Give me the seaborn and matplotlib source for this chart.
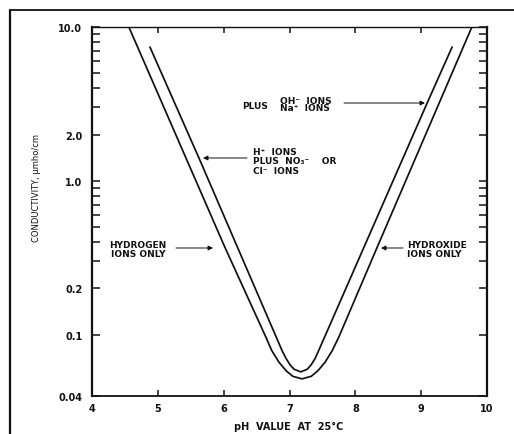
import matplotlib
matplotlib.use("Agg")
import matplotlib.pyplot as plt
from matplotlib.lines import Line2D
import seaborn as sns
import pandas as pd

# Conductivity of pure water (H+ / OH- only)
ph_pure = [4.56, 6.02, 6.64, 6.73, 6.84, 6.95, 7.05, 7.19, 7.33, 7.43, 7.54, 7.65, 7.75, 8.33, 9.77]
cond_pure = [10.0, 0.369, 0.0968, 0.0790, 0.0663, 0.0583, 0.0537, 0.0517, 0.0537, 0.0583,
             0.0663, 0.0790, 0.0968, 0.369, 10.0]

# Conductivity with NaNO3 / NaCl present
ph_salt = [4.88, 5.64, 6.89, 6.95, 7.01, 7.07, 7.17, 7.27, 7.33, 7.39, 7.44, 9.09, 9.47]
cond_salt = [7.41, 1.36, 0.0784, 0.0699, 0.0636, 0.0597, 0.0574, 0.0597, 0.0639, 0.0702,
             0.0784, 3.20, 7.41]

x_ticks = [4, 5, 6, 7, 8, 9, 10]
x_tick_labels = ["4", "5", "6", "7", "8", "9", "10"]
y_ticks = [0.04, 0.1, 0.2, 1.0, 2.0, 10.0]
y_tick_labels = ["0.04", "0.1", "0.2", "1.0", "2.0", "10.0"]
y_minor = [0.3, 0.4, 0.5, 0.6, 0.7, 0.8, 0.9, 3, 4, 5, 6, 7, 8, 9]

sns.set_theme(style="white")
plt.rcParams["font.family"] = ["DejaVu Sans"]

fig = plt.figure(figsize=(5.14, 4.35), dpi=100)
ax = fig.add_axes([92 / 514, 1 - 397 / 435, 395 / 514, 369 / 435])

pure = pd.DataFrame({"ph": ph_pure, "cond": cond_pure})
salt = pd.DataFrame({"ph": ph_salt, "cond": cond_salt})
sns.lineplot(data=pure, x="ph", y="cond", sort=False, estimator=None,
             color="#111111", lw=1.25, ax=ax)
sns.lineplot(data=salt, x="ph", y="cond", sort=False, estimator=None,
             color="#111111", lw=1.25, ax=ax)

ax.set_yscale("log")
ax.set_xlim(4, 10)
ax.set_ylim(0.04, 10)

ax.set_xticks(x_ticks)
ax.set_xticklabels(x_tick_labels, fontsize=7, fontweight="bold")
ax.set_yticks(y_ticks)
ax.set_yticklabels(y_tick_labels, fontsize=7, fontweight="bold")
ax.set_yticks(y_minor, minor=True)
ax.set_yticklabels([], minor=True)
ax.tick_params(axis="x", which="both", direction="in", top=True, bottom=True,
               length=4, width=1.1, pad=5, colors="#111111")
ax.tick_params(axis="y", which="both", direction="in", left=True, right=True,
               length=6, width=1.1, pad=7, colors="#111111")

for side, lw in [("left", 1.6), ("right", 1.6), ("bottom", 1.3), ("top", 1.0)]:
    ax.spines[side].set_visible(True)
    ax.spines[side].set_linewidth(lw)
    ax.spines[side].set_color("#111111")

ax.set_xlabel("pH  VALUE  AT  25°C", fontsize=7, fontweight="bold", color="#111111")
ax.xaxis.set_label_coords(0.4987, -0.068)
ax.set_ylabel("CONDUCTIVITY, µmho/cm", fontsize=6, color="#111111")
ax.yaxis.set_label_coords(-0.129, 0.566)

txt = dict(fontsize=6.5, fontweight="bold", color="#111111", transform=ax.transAxes)
arrow = dict(arrowstyle="-|>", color="#111111", lw=0.7, mutation_scale=7,
             shrinkA=0, shrinkB=0)

ax.text(0.1165, 0.399, "HYDROGEN\nIONS ONLY", ha="center", va="center",
        multialignment="center", linespacing=1.0, **txt)
ax.annotate("", xy=(0.3063, 0.4011), xytext=(0.2127, 0.4011),
            xycoords="axes fraction", arrowprops=arrow)

ax.text(0.7975, 0.399, "HYDROXIDE\nIONS ONLY", ha="left", va="center",
        multialignment="left", linespacing=1.0, **txt)
ax.annotate("", xy=(0.7316, 0.4011), xytext=(0.7873, 0.4011),
            xycoords="axes fraction", arrowprops=arrow)

ax.text(0.4076, 0.6369, "H⁺  IONS\nPLUS  NO₃⁻    OR\nCl⁻  IONS", ha="left",
        va="center", multialignment="left", linespacing=1.05, **txt)
ax.annotate("", xy=(0.2810, 0.6450), xytext=(0.3924, 0.6450),
            xycoords="axes fraction", arrowprops=arrow)

ax.text(0.3797, 0.7886, "PLUS", ha="left", va="center", **txt)
ax.text(0.4759, 0.7913, "OH⁻  IONS\nNa⁺  IONS", ha="left", va="center",
        multialignment="left", linespacing=0.85,
        **{**txt, "fontsize": 6.5})
ax.annotate("", xy=(0.843, 0.794), xytext=(0.638, 0.794),
            xycoords="axes fraction", arrowprops=arrow)

# page frame around the figure
fig.add_artist(Line2D([10 / 514, 1.0], [1 - 11 / 435, 1 - 11 / 435],
                      transform=fig.transFigure, color="#111111", lw=1.3))
fig.add_artist(Line2D([10 / 514, 10 / 514], [0.0, 1 - 11 / 435],
                      transform=fig.transFigure, color="#111111", lw=1.6))

fig.savefig("out.png", dpi=100, facecolor="white")
